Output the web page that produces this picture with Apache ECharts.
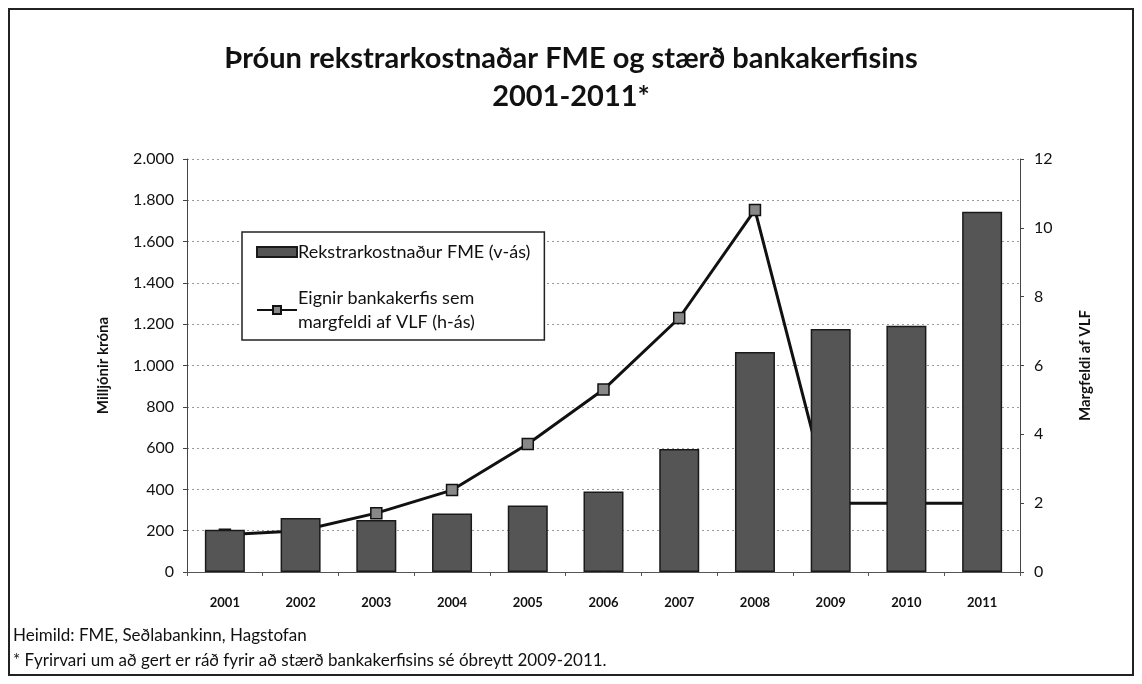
<!DOCTYPE html>
<html lang="is">
<head>
<meta charset="UTF-8">
<title>Þróun rekstrarkostnaðar FME</title>
<script src="https://cdn.jsdelivr.net/npm/echarts@6/dist/echarts.min.js"></script>
<style>
    html, body { margin: 0; padding: 0; background: #fff; }
    #chart { width: 1142px; height: 684px; }
</style>
</head>
<body>
<div id="chart"></div>
<script>
var years = ['2001', '2002', '2003', '2004', '2005', '2006', '2007', '2008', '2009', '2010', '2011'];
// Rekstrarkostnaður FME, milljónir króna (vinstri ás)
var costFME = [205, 262, 252, 283, 322, 390, 596, 1065, 1177, 1192, 1745];
// Eignir bankakerfis sem margfeldi af VLF (hægri ás)
var bankAssets = [1.08, 1.2, 1.71, 2.38, 3.72, 5.3, 7.38, 10.52, 2.0, 2.0, 2.0];

var barName = 'Rekstrarkostnaður FME (v-ás)';
var lineName = 'Eignir bankakerfis sem margfeldi af VLF (h-ás)';
var font = 'Lato, "Open Sans", sans-serif';

var chartDom = document.getElementById('chart');
var myChart = echarts.init(chartDom);
var option;

option = {
    textStyle: { fontFamily: font, color: '#111' },
    title: {
        text: 'Þróun rekstrarkostnaðar FME og stærð bankakerfisins\n2001-2011*',
        left: 'center',
        top: 35,
        textStyle: { fontSize: 29, fontWeight: 'bold', lineHeight: 38, color: '#111', fontFamily: font }
    },
    graphic: [
        {
            type: 'rect',
            shape: { x: 9, y: 9, width: 1124, height: 666 },
            style: { fill: 'none', stroke: '#222', lineWidth: 2 }
        },
        {
            type: 'text',
            left: 13, top: 623,
            style: {
                text: 'Heimild: FME, Seðlabankinn, Hagstofan\n* Fyrirvari um að gert er ráð fyrir að stærð bankakerfisins sé óbreytt 2009-2011.',
                fontSize: 17, lineHeight: 25, fill: '#111', fontFamily: font
            }
        }
    ],
    legend: {
        orient: 'vertical',
        left: 242,
        top: 232,
        width: 306,
        padding: [8, 14, 6, 14],
        itemGap: 22,
        itemWidth: 40,
        itemHeight: 10,
        borderColor: '#222',
        borderWidth: 1.5,
        backgroundColor: '#fff',
        data: [{ name: barName, icon: 'rect' }, { name: lineName }],
        formatter: function (name) {
            return name === lineName ? 'Eignir bankakerfis sem\nmargfeldi af VLF (h-ás)' : name;
        },
        textStyle: { fontSize: 18, lineHeight: 24, color: '#111', fontFamily: font, padding: [0, 0, 0, -4] }
    },
    grid: { left: 187, right: 122, top: 159, bottom: 112 },
    xAxis: {
        type: 'category',
        data: years,
        axisLine: { lineStyle: { color: '#555' } },
        axisTick: { show: true, length: 4, lineStyle: { color: '#555' } },
        axisLabel: { fontSize: 13, fontWeight: 'bold', margin: 24, color: '#111' }
    },
    yAxis: [
        {
            type: 'value',
            min: 0, max: 2000, interval: 200,
            name: 'Milljónir króna',
            nameLocation: 'middle',
            nameGap: 76,
            nameRotate: 90,
            nameTextStyle: { fontSize: 15, fontWeight: 'bold', color: '#111' },
            axisLine: { show: true, lineStyle: { color: '#444' } },
            axisTick: { show: true, length: 4, lineStyle: { color: '#444' } },
            axisLabel: {
                fontSize: 16, color: '#111', margin: 13,
                formatter: function (v) { return v.toString().replace(/\B(?=(\d{3})+(?!\d))/g, '.'); }
            },
            splitLine: { lineStyle: { color: '#9a9a9a', type: [2, 3] } }
        },
        {
            type: 'value',
            min: 0, max: 12, interval: 2,
            name: 'Margfeldi af VLF',
            nameLocation: 'middle',
            nameGap: 58,
            nameRotate: 90,
            nameTextStyle: { fontSize: 15, fontWeight: 'bold', color: '#111' },
            axisLine: { show: true, lineStyle: { color: '#444' } },
            axisTick: { show: true, length: 4, lineStyle: { color: '#444' } },
            axisLabel: { fontSize: 16, color: '#111', margin: 14 },
            splitLine: { show: false }
        }
    ],
    series: [
        {
            name: lineName,
            type: 'line',
            yAxisIndex: 1,
            data: bankAssets,
            z: 2,
            symbol: 'rect',
            symbolSize: 11,
            showAllSymbol: true,
            lineStyle: { color: '#111', width: 3 },
            itemStyle: { color: '#888', borderColor: '#111', borderWidth: 1.5 }
        },
        {
            name: barName,
            type: 'bar',
            data: costFME,
            z: 3,
            barWidth: 40,
            itemStyle: { color: '#555', borderColor: '#1a1a1a', borderWidth: 1.5 }
        }
    ]
};

myChart.setOption(option);
</script>
</body>
</html>
